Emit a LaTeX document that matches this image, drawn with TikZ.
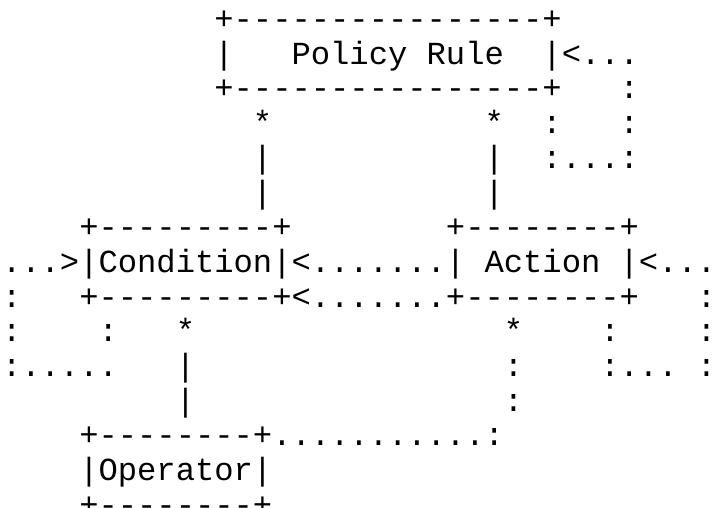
\documentclass[tikz,border=0pt]{standalone}
\usepackage{fontspec}
\setmonofont{Liberation Mono}
\tikzset{
  txt/.style={anchor=base west, inner sep=0pt, outer sep=0pt,
    font=\ttfamily\fontsize{32.17pt}{36pt}\selectfont, text=black}
}
\newcommand\tx[3]{\node[txt] (r#1c#2) at ({2.05+19.3*#2},{29.5+34.7*(#1-1)}) {#3};}
\begin{document}
\begin{tikzpicture}[x=1pt,y=-1pt]
\useasboundingbox[fill=white] (0,0) rectangle (712,508);
\frenchspacing
% row 1
\tx{1}{11}{+----------------+}
% row 2
\tx{2}{11}{|}
\tx{2}{15}{Policy Rule}
\tx{2}{28}{|<...}
% row 3
\tx{3}{11}{+----------------+}
\tx{3}{32}{:}
% row 4
\tx{4}{13}{*}
\tx{4}{25}{*}
\tx{4}{28}{:}
\tx{4}{32}{:}
% row 5
\tx{5}{13}{|}
\tx{5}{25}{|}
\tx{5}{28}{:...:}
% row 6
\tx{6}{13}{|}
\tx{6}{25}{|}
% row 7
\tx{7}{4}{+---------+}
\tx{7}{23}{+--------+}
% row 8
\tx{8}{0}{...>|Condition|<.......|}
\tx{8}{25}{Action}
\tx{8}{32}{|<...}
% row 9
\tx{9}{0}{:}
\tx{9}{4}{+---------+<.......+--------+}
\tx{9}{36}{:}
% row 10
\tx{10}{0}{:}
\tx{10}{5}{:}
\tx{10}{9}{*}
\tx{10}{26}{*}
\tx{10}{31}{:}
\tx{10}{36}{:}
% row 11
\tx{11}{0}{:.....}
\tx{11}{9}{|}
\tx{11}{26}{:}
\tx{11}{31}{:...}
\tx{11}{36}{:}
% row 12
\tx{12}{9}{|}
\tx{12}{26}{:}
% row 13
\tx{13}{4}{+--------+...........:}
% row 14
\tx{14}{4}{|Operator|}
% row 15
\tx{15}{4}{+--------+}
\end{tikzpicture}
\end{document}
